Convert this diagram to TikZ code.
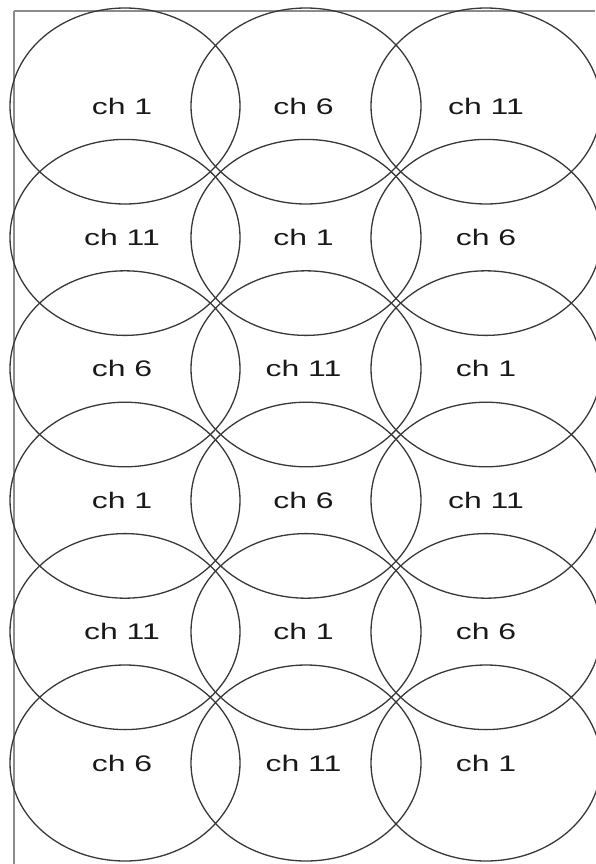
\documentclass[tikz,border=0pt]{standalone}
\usepackage{fontspec}
\setmainfont{Liberation Sans}
\usetikzlibrary{shapes.geometric}
\definecolor{linegray}{HTML}{383838}
\definecolor{framegray}{HTML}{8C8C8C}
\begin{document}
\begin{tikzpicture}[x=1pt,y=-1pt,
  cell/.style={ellipse, draw=linegray, line width=1.3pt,
    minimum width=230pt, minimum height=196pt, inner sep=0pt,
    font=\fontsize{22.5}{26}\selectfont, text=black!90},
  frameline/.style={draw=framegray}]
\useasboundingbox (0,0) rectangle (595,864);
% frame
\coordinate (tl) at (14,11);
\coordinate (tr) at (595,11);
\coordinate (bl) at (14,864);
\draw[frameline, line width=2.2pt] (tl) -- (bl);
\draw[frameline, line width=1.3pt] (tl) -- (tr);
% cells
\foreach \r/\y/\la/\lb/\lc in {
  1/106/1/6/11,
  2/237.4/11/1/6,
  3/368.8/6/11/1,
  4/500.2/1/6/11,
  5/631.6/11/1/6,
  6/763/6/11/1}{
  \node[cell] (e\r a) at (125,\y) {\hspace*{-6pt}\scalebox{1.42}[1]{ch \la}};
  \node[cell] (e\r b) at (306,\y) {\hspace*{-5pt}\scalebox{1.42}[1]{ch \lb}};
  \node[cell] (e\r c) at (486,\y) {\scalebox{1.42}[1]{ch \lc}};
}
\end{tikzpicture}
\end{document}
